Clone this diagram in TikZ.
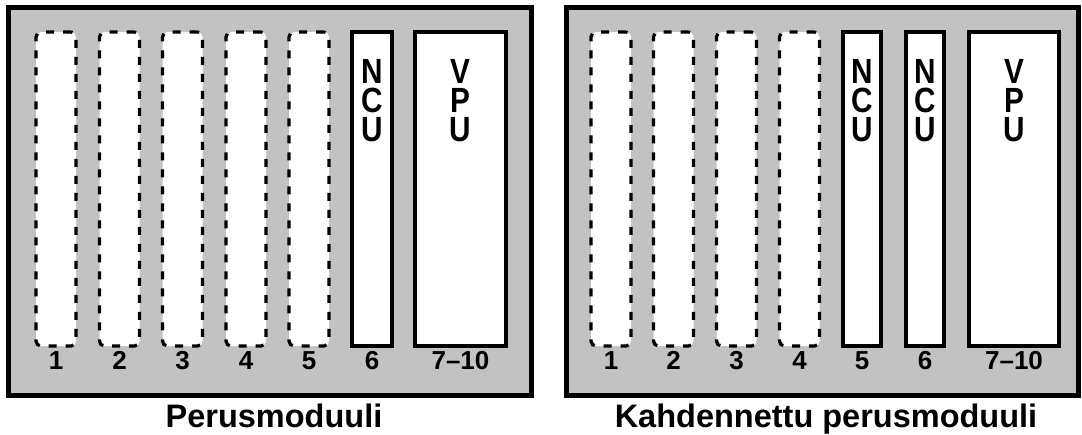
\documentclass[tikz,border=0pt]{standalone}
\usepackage{fontspec}
\setmainfont{Liberation Sans}
\newfontfamily\narrowsans[FakeStretch=0.85]{Liberation Sans}
\begin{document}
\begin{tikzpicture}[x=1pt,y=-1pt,
  frame/.style={draw=black, line width=5pt, fill=black!24, inner sep=0pt, minimum height=388pt},
  slot/.style={draw=black, line width=3.2pt, fill=white, dash pattern=on 8pt off 9pt, rounded corners=5pt, minimum width=40pt, minimum height=314pt, inner sep=0pt},
  unit/.style={draw=black, line width=3.5pt, fill=white, minimum height=314pt, inner sep=0pt},
  num/.style={font=\bfseries\fontsize{26}{26}\selectfont, anchor=base, inner sep=0pt},
  lbl/.style={font=\narrowsans\bfseries\fontsize{35}{35}\selectfont, anchor=base, inner sep=0pt},
  ttl/.style={font=\bfseries\fontsize{32.5}{32.5}\selectfont, anchor=base, inner sep=0pt}]
\useasboundingbox (0,0) rectangle (1082,434);
% left module
\node[frame, minimum width=523pt] (fl) at (269.5,201) {};
\foreach \x/\n in {56/1,119.5/2,182.5/3,246/4,309/5}{
  \node[slot] (l\n) at (\x,189) {};
  \node[num] (ln\n) at (\x,369) {\n};
}
\node[unit, minimum width=40pt] (lncu) at (372,189) {};
\node[lbl] (lncu1) at (372,83) {N};
\node[lbl] (lncu2) at (372,112) {C};
\node[lbl] (lncu3) at (372,141) {U};
\node[num] (ln6) at (372,369) {6};
\node[unit, minimum width=91pt] (lvpu) at (460.5,189) {};
\node[lbl] (lvpu1) at (460.5,83) {V};
\node[lbl] (lvpu2) at (460.5,112) {P};
\node[lbl] (lvpu3) at (460.5,141) {U};
\node[num] (ln7) at (460.5,369) {7--10};
\node[ttl] (tl) at (274,427) {Perusmoduuli};
% right module
\node[frame, minimum width=512pt] (fr) at (822,201) {};
\foreach \x/\n in {611/1,673.5/2,736.5/3,799.5/4}{
  \node[slot] (r\n) at (\x,189) {};
  \node[num] (rn\n) at (\x,369) {\n};
}
\node[unit, minimum width=38pt] (rncua) at (862,189) {};
\node[lbl] (rncua1) at (862,83) {N};
\node[lbl] (rncua2) at (862,112) {C};
\node[lbl] (rncua3) at (862,141) {U};
\node[num] (rn5) at (862,369) {5};
\node[unit, minimum width=38pt] (rncub) at (925,189) {};
\node[lbl] (rncub1) at (925,83) {N};
\node[lbl] (rncub2) at (925,112) {C};
\node[lbl] (rncub3) at (925,141) {U};
\node[num] (rn6) at (925,369) {6};
\node[unit, minimum width=90pt] (rvpu) at (1014,189) {};
\node[lbl] (rvpu1) at (1014,83) {V};
\node[lbl] (rvpu2) at (1014,112) {P};
\node[lbl] (rvpu3) at (1014,141) {U};
\node[num] (rn7) at (1014,369) {7--10};
\node[ttl] (tr) at (826,427) {Kahdennettu perusmoduuli};
\end{tikzpicture}
\end{document}
